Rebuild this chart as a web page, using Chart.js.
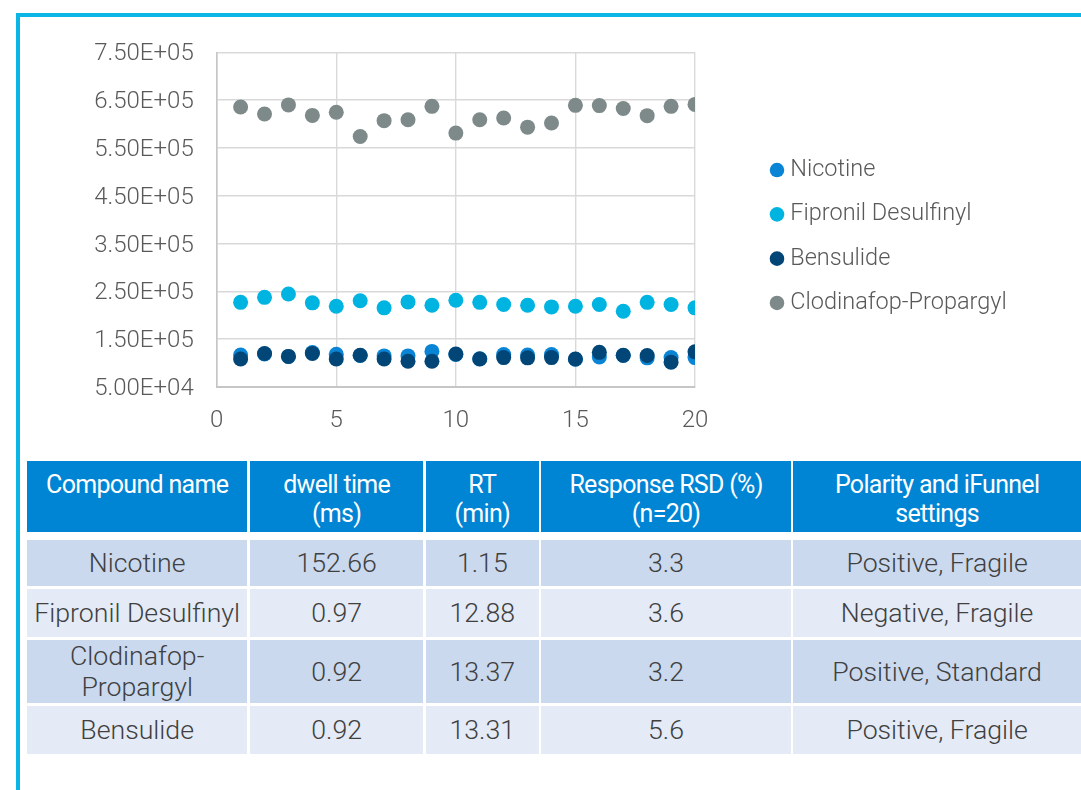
<!DOCTYPE html>
<html>
<head>
<meta charset="utf-8">
<script src="https://cdn.jsdelivr.net/npm/chart.js@4"></script>
<style>
  html, body { margin: 0; padding: 0; background: #fff; }
  body { width: 1081px; height: 790px; position: relative; overflow: hidden; font-family: Roboto, sans-serif; }
  .frame { position: absolute; left: 16px; top: 13px; width: 1200px; height: 900px;
           border-left: 4px solid #0bb5e6; border-top: 4px solid #0bb5e6; }
  #chartBox { position: absolute; left: 0; top: 0; width: 1081px; height: 460px; }
  .grid { position: absolute; left: 27px; display: grid; column-gap: 2.7px; row-gap: 3px;
          grid-template-columns: 220.3px 173.3px 112.7px 249.4px 287.4px; }
  .grid div { display: flex; align-items: center; justify-content: center; text-align: center; box-sizing: border-box; }
  .head { top: 460.7px; grid-template-rows: 71px; }
  .head div { background: #0085d5; color: #fff; font-size: 25px; font-weight: 400; align-items: flex-start;
              padding-top: 9px; letter-spacing: -0.7px; line-height: 29px; }
  .body { top: 540px; grid-template-rows: 45.7px 48px 63.4px 47.6px; }
  .body div { color: #404040; font-size: 26.7px; font-weight: 300; line-height: 31px; padding-top: 2px; }
  .body .odd { background: #cad9ee; }
  .body .even { background: #e4ebf6; }
</style>
</head>
<body>
<div class="frame"></div>
<div id="chartBox"><canvas id="scatter" width="1081" height="460"></canvas></div>
<div class="grid head" id="tableHead"></div>
<div class="grid body" id="tableBody"></div>

<script>
const runs = [1,2,3,4,5,6,7,8,9,10,11,12,13,14,15,16,17,18,19,20];
const nicotine    = [117000,119000,114000,122000,118500,116000,115000,115000,124500,118000,109000,118000,117000,118000,108000,113000,116000,111000,111500,111500];
const fipronil    = [227000,237500,244500,226000,219000,230500,215500,228000,221000,231500,227000,222500,221000,217500,219000,222500,208500,227000,222500,215500];
const bensulide   = [108500,120000,114000,120000,108500,116500,108500,104000,104000,119000,108500,111500,111000,111500,108500,122500,116500,116000,102000,123500];
const clodinafop  = [635500,621000,640000,618000,624500,574000,607000,609000,637000,581000,609000,612500,593500,602000,639000,638500,632500,617500,637000,641000];

const yTicks = [50000,150000,250000,350000,450000,550000,650000,750000];
const xTicks = [0,5,10,15,20];

const headers = ["Compound name", "dwell time<br>(ms)", "RT<br>(min)", "Response RSD (%)<br>(n=20)", "Polarity and iFunnel<br>settings"];
const compounds = ["Nicotine", "Fipronil Desulfinyl", "Clodinafop-<br>Propargyl", "Bensulide"];
const dwellTime = ["152.66", "0.97", "0.92", "0.92"];
const rt = ["1.15", "12.88", "13.37", "13.31"];
const rsd = ["3.3", "3.6", "3.2", "5.6"];
const polarity = ["Positive, Fragile", "Negative, Fragile", "Positive, Standard", "Positive, Fragile"];

document.getElementById("tableHead").innerHTML = headers.map(h => `<div>${h}</div>`).join("");
document.getElementById("tableBody").innerHTML = compounds.map((c, i) => {
  const cls = i % 2 === 0 ? "odd" : "even";
  return [c, dwellTime[i], rt[i], rsd[i], polarity[i]].map(v => `<div class="${cls}">${v}</div>`).join("");
}).join("");

function sci(v) {
  const [m, e] = v.toExponential(2).split("e");
  return m + "E" + e[0] + e.slice(1).padStart(2, "0");
}

const pts = arr => arr.map((v, i) => ({ x: runs[i], y: v }));
const dot = (label, arr, color, order) => ({
  label, data: pts(arr), order,
  backgroundColor: color, pointBackgroundColor: color,
  borderWidth: 0, pointBorderWidth: 0, pointRadius: 7.5, pointHoverRadius: 7.5
});

Chart.defaults.font.family = "Roboto";
Chart.defaults.font.weight = 300;
Chart.defaults.color = "#595959";

const GAP = 59.7;
const tickFont = { size: 24, weight: 300 };
const blank = { display: false };

const chart = new Chart(document.getElementById("scatter"), {
  type: "scatter",
  data: {
    datasets: [
      dot("Nicotine", nicotine, "#0a84d4", 1),
      dot("Fipronil Desulfinyl", fipronil, "#00b4e2", 1),
      dot("Bensulide", bensulide, "#024677", 0),
      dot("Clodinafop-Propargyl", clodinafop, "#7d8a89", 1)
    ]
  },
  options: {
    responsive: false,
    animation: false,
    layout: { padding: { top: 29, left: 0, right: 20, bottom: 16 } },
    plugins: {
      tooltip: { enabled: false },
      legend: {
        position: "right",
        align: "center",
        maxWidth: 400,
        labels: {
          usePointStyle: true, boxWidth: 3, boxHeight: 10.3, padding: 20.8,
          color: "#595959", font: { size: 23.5, weight: 300 },
          sort: (a, b) => a.datasetIndex - b.datasetIndex
        }
      }
    },
    scales: {
      x: {
        type: "linear", min: 0, max: 20,
        afterBuildTicks: s => { s.ticks = xTicks.map(v => ({ value: v })); },
        ticks: { padding: 20, font: tickFont, color: "#595959", maxRotation: 0 },
        grid: { color: "#d9d9d9", lineWidth: 1.4, drawTicks: false },
        border: { color: "#c6c6c6", width: 2 },
        afterFit: s => { s.height = 57; }
      },
      y: {
        type: "linear", min: 50000, max: 750000,
        afterBuildTicks: s => { s.ticks = yTicks.map(v => ({ value: v })); },
        ticks: { padding: 23, labelOffset: 2, font: tickFont, color: "#595959", callback: v => sci(v) },
        grid: { color: "#d9d9d9", lineWidth: 1.4, drawTicks: false },
        border: { color: "#c6c6c6", width: 1.6 },
        afterFit: s => { s.width = 216.7; }
      },
      gap: {
        type: "linear", position: "right", display: true,
        ticks: blank, grid: { display: false, drawTicks: false }, border: blank,
        afterFit: s => { s.width = GAP; }
      },
      gapTop: {
        type: "linear", position: "top", display: true,
        ticks: blank, grid: { display: false, drawTicks: false }, border: blank,
        afterFit: s => { s.height = 23.3; }
      }
    }
  }
});

// fix right padding so the plot ends at x=20 where the reference does
chart.options.layout.padding.right = 1081 - 695 - GAP - chart.legend.width;
chart.update();
</script>
</body>
</html>
